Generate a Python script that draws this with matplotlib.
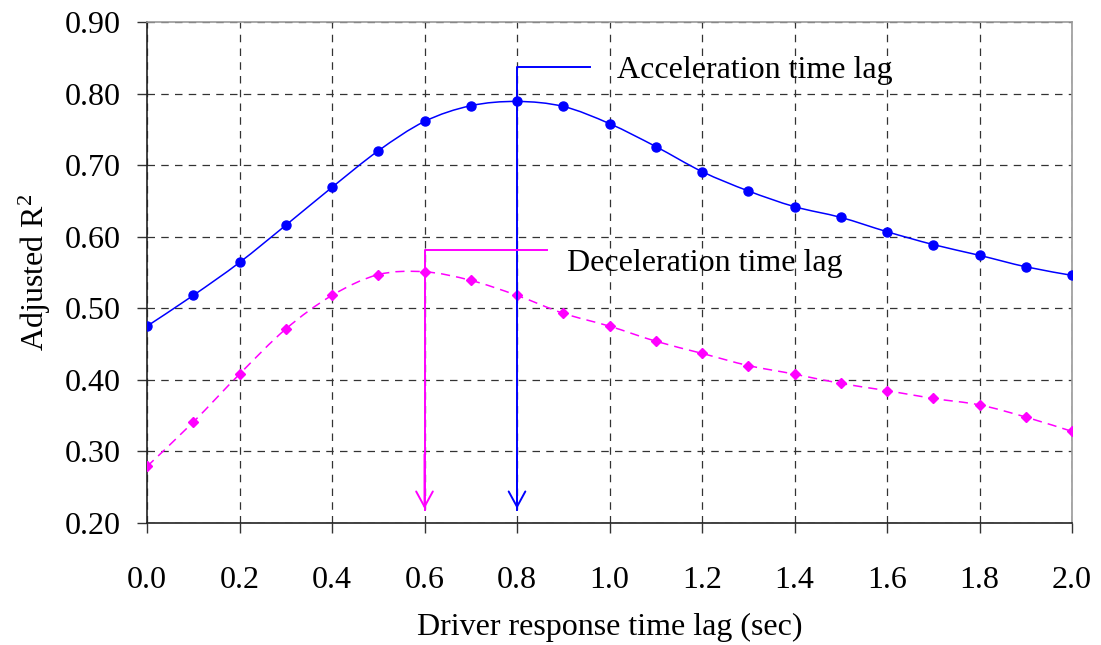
import matplotlib
matplotlib.use("Agg")
import matplotlib.pyplot as plt
from matplotlib.path import Path
from matplotlib.patches import PathPatch
import numpy as np

lags = [0.0, 0.1, 0.2, 0.3, 0.4, 0.5, 0.6, 0.7, 0.8, 0.9, 1.0,
        1.1, 1.2, 1.3, 1.4, 1.5, 1.6, 1.7, 1.8, 1.9, 2.0]
accel_r2 = [0.475, 0.518, 0.564, 0.616, 0.669, 0.720, 0.761, 0.783, 0.789, 0.782, 0.758,
            0.726, 0.691, 0.664, 0.642, 0.627, 0.607, 0.589, 0.574, 0.558, 0.546]
decel_r2 = [0.279, 0.341, 0.408, 0.471, 0.518, 0.547, 0.551, 0.539, 0.518, 0.493, 0.475,
            0.454, 0.437, 0.420, 0.408, 0.395, 0.385, 0.374, 0.365, 0.348, 0.328]
x_ticks = [0.0, 0.2, 0.4, 0.6, 0.8, 1.0, 1.2, 1.4, 1.6, 1.8, 2.0]
y_ticks = [0.20, 0.30, 0.40, 0.50, 0.60, 0.70, 0.80, 0.90]
accel_peak = 0.8
decel_peak = 0.6
accel_label = "Acceleration time lag"
decel_label = "Deceleration time lag"

plt.rcParams['font.family'] = ['Liberation Serif', 'DejaVu Serif']
plt.rcParams['mathtext.fontset'] = 'custom'
plt.rcParams['mathtext.rm'] = 'Liberation Serif'
plt.rcParams['mathtext.it'] = 'Liberation Serif:italic'
FS = 23

fig = plt.figure(figsize=(11.01, 6.45), dpi=100)
ax = fig.add_axes([147/1101, 1-523/645, (1072-147)/1101, (523-22)/645])


def smooth_path(xs, ys):
    pts = np.column_stack([xs, ys])
    verts = [pts[0]]
    codes = [Path.MOVETO]
    n = len(pts)
    for i in range(n - 1):
        p0 = pts[i - 1] if i > 0 else pts[i]
        p1 = pts[i]
        p2 = pts[i + 1]
        p3 = pts[i + 2] if i + 2 < n else pts[i + 1]
        c1 = p1 + (p2 - p0) / 6.0
        c2 = p2 - (p3 - p1) / 6.0
        verts += [c1, c2, p2]
        codes += [Path.CURVE4] * 3
    return Path(verts, codes)

ax.add_patch(PathPatch(smooth_path(lags, accel_r2), facecolor='none',
                       edgecolor='#0000FF', lw=1.1, zorder=3))
ax.add_patch(PathPatch(smooth_path(lags, decel_r2), facecolor='none',
                       edgecolor='#FF00FF', lw=1.1, linestyle=(0, (6, 4)), zorder=3))
ax.plot(lags, accel_r2, linestyle='none', marker='o', ms=6.5, color='#0000FF', zorder=4)
ax.plot(lags, decel_r2, linestyle='none', marker='D', ms=5.5, color='#FF00FF', zorder=4)

# annotations
arrow_style = '->,head_length=1.1,head_width=0.6'
ax.plot([accel_peak, accel_peak, 0.958], [0.218, 0.837, 0.837], color='#0000FF', lw=1.4, zorder=5)
ax.annotate('', xy=(accel_peak, 0.216), xytext=(accel_peak, 0.30),
            arrowprops=dict(arrowstyle=arrow_style, color='#0000FF', lw=1.4), zorder=5)
ax.text(1.016, 0.832, accel_label, fontsize=FS, va='center', ha='left', zorder=6)

ax.plot([decel_peak, decel_peak, 0.865], [0.218, 0.582, 0.582], color='#FF00FF', lw=1.4, zorder=5)
ax.annotate('', xy=(decel_peak, 0.216), xytext=(decel_peak, 0.30),
            arrowprops=dict(arrowstyle=arrow_style, color='#FF00FF', lw=1.4), zorder=5)
ax.text(0.908, 0.563, decel_label, fontsize=FS, va='center', ha='left', zorder=6)

ax.set_xlim(0, 2.0)
ax.set_ylim(0.20, 0.90)
ax.set_xticks(x_ticks)
ax.set_yticks(y_ticks)
ax.set_xticklabels([f"{v:.1f}" for v in x_ticks], fontsize=FS)
ax.set_yticklabels([f"{v:.2f}" for v in y_ticks], fontsize=FS)
ax.tick_params(axis='both', direction='out', length=7, width=1.0, color='#333333')
ax.tick_params(axis='y', pad=12)
ax.tick_params(axis='x', pad=24)
ax.grid(True, color='#333333', linestyle=(0, (6, 5)), lw=0.9)
ax.set_axisbelow(True)
for s in ['top', 'right']:
    ax.spines[s].set_color('#999999')
    ax.spines[s].set_linewidth(1.2)
for s in ['bottom', 'left']:
    ax.spines[s].set_color('#222222')
    ax.spines[s].set_linewidth(1.2)

ax.set_xlabel("Driver response time lag (sec)", fontsize=FS, labelpad=13)
ax.set_ylabel(r"Adjusted R$^{\mathrm{2}}$", fontsize=FS, labelpad=8)

fig.savefig("out.png", dpi=100)
